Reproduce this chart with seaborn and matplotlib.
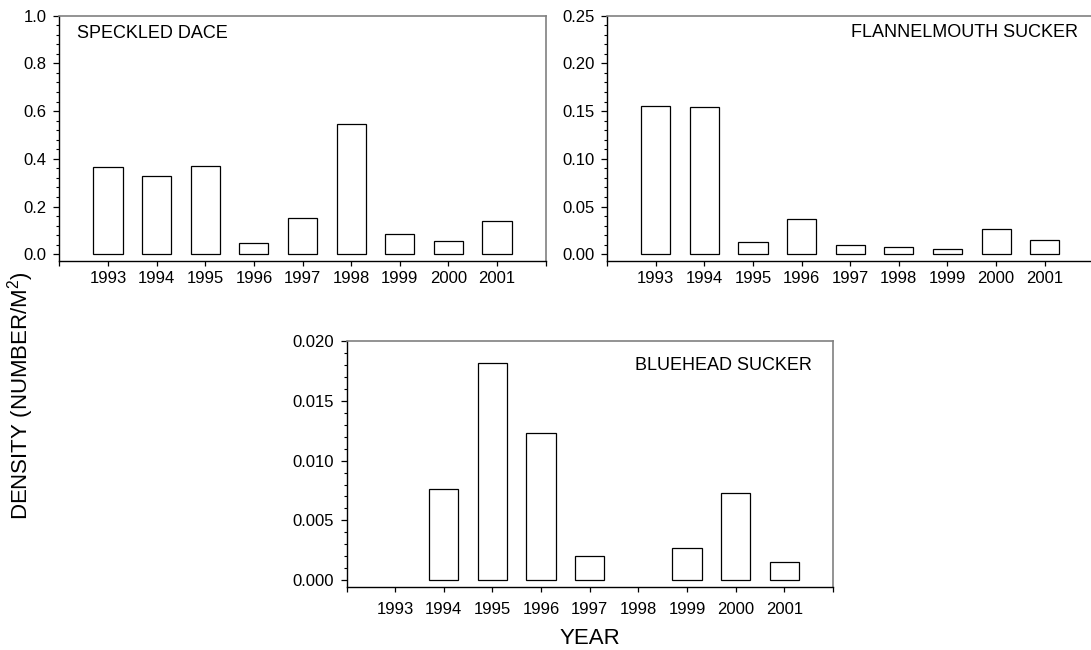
import numpy as np
import pandas as pd
import matplotlib
matplotlib.use('Agg')
import matplotlib.pyplot as plt
from matplotlib.ticker import MultipleLocator, FormatStrFormatter
import seaborn as sns

sns.set_style('ticks', rc={'text.color': 'black', 'xtick.color': 'black',
                           'ytick.color': 'black', 'axes.labelcolor': 'black'})
plt.rcParams['font.family'] = ['Liberation Sans', 'DejaVu Sans']
plt.rcParams['mathtext.fontset'] = 'custom'
plt.rcParams['mathtext.rm'] = 'Liberation Sans'
plt.rcParams['mathtext.it'] = 'Liberation Sans'

# data
years = [1993, 1994, 1995, 1996, 1997, 1998, 1999, 2000, 2001]
speckled_dace = [0.364, 0.330, 0.369, 0.048, 0.154, 0.547, 0.085, 0.057, 0.141]
flannelmouth_sucker = [0.155, 0.154, 0.013, 0.037, 0.010, 0.0073, 0.0056, 0.0266, 0.0150]
bluehead_sucker = [np.nan, 0.0076, 0.0182, 0.0123, 0.0020, np.nan, 0.0027, 0.0073, 0.0015]

panels = [
    # (values, name, ymax, major, fmt, label x, label ha, label y, axes rect, xpad)
    (speckled_dace, 'SPECKLED DACE', 1.0, 0.2, '%.1f', 0.037, 'left', 0.927,
     [0.0544, 0.5985, 0.4458, 0.3774], 4),
    (flannelmouth_sucker, 'FLANNELMOUTH SUCKER', 0.25, 0.05, '%.2f', 0.969, 'right', 0.930,
     [0.5564, 0.5985, 0.4458, 0.3774], 4),
    (bluehead_sucker, 'BLUEHEAD SUCKER', 0.020, 0.005, '%.3f', 0.956, 'right', 0.900,
     [0.3176, 0.0974, 0.4458, 0.3774], 7.5),
]

fig = plt.figure(figsize=(10.91, 6.5), dpi=100)

for vals, name, ymax, major, fmt, lx, lha, ly, rect, xpad in panels:
    ax = fig.add_axes(rect)
    df = pd.DataFrame({'year': years, 'density': vals})
    sns.barplot(data=df, x='year', y='density', native_scale=True, width=0.6,
                color='white', edgecolor='black', linewidth=0.9, errorbar=None,
                saturation=1, ax=ax)
    ax.set_xlim(1992, 2002)
    ax.set_ylim(-0.028 * ymax, ymax)
    ax.set_xticks(range(1992, 2003))
    ax.set_xticklabels([''] + [str(y) for y in years] + [''])
    ax.yaxis.set_major_locator(MultipleLocator(major))
    ax.yaxis.set_minor_locator(MultipleLocator(major / 5))
    ax.yaxis.set_major_formatter(FormatStrFormatter(fmt))
    ax.tick_params(axis='y', which='major', direction='out', length=4, width=0.9,
                   labelsize=12, pad=5)
    ax.tick_params(axis='y', which='minor', direction='out', length=2, width=0.8)
    ax.tick_params(axis='x', which='major', direction='out', length=3.5, width=0.9,
                   labelsize=12, pad=xpad)
    ax.set_xlabel('')
    ax.set_ylabel('')
    for side in ['top', 'right']:
        ax.spines[side].set_visible(True)
        ax.spines[side].set_color('#808080')
        ax.spines[side].set_linewidth(1.2)
    for side in ['left', 'bottom']:
        ax.spines[side].set_color('black')
        ax.spines[side].set_linewidth(1.0)
    ax.text(lx, ly, name, transform=ax.transAxes, ha=lha, va='center', fontsize=13)

fig.text(0.019, 0.392, 'DENSITY (NUMBER/M$^{2}$)', rotation=90, ha='center',
         va='center', fontsize=16)
fig.text(0.5405, 0.018, 'YEAR', ha='center', va='center', fontsize=16)

plt.savefig('out.png', dpi=100)
plt.close()
